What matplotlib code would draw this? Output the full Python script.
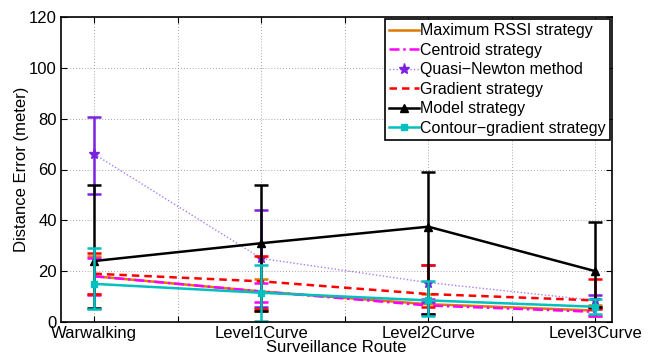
import matplotlib
matplotlib.use("Agg")
import matplotlib.pyplot as plt

plt.rcParams["font.family"] = ["Liberation Sans", "DejaVu Sans"]

routes = ["Warwalking", "Level1Curve", "Level2Curve", "Level3Curve"]
xpos = [1, 2, 3, 4]

# mean, lower bound, upper bound of each strategy's error (meters)
max_rssi = [18, 12, 7, 4.5]
max_rssi_lo = [11, 4.5, 3, 2.5]
max_rssi_hi = [26, 17, 11, 6.5]

centroid = [18, 12, 6.5, 4]
centroid_lo = [10.5, 8, 3, 2.5]
centroid_hi = [25, 15.5, 9, 5.5]

quasi = [66, 25, 15.5, 8.5]
quasi_lo = [50.5, 6, 8, 6]
quasi_hi = [80.5, 44, 22.5, 10.5]

gradient = [19, 16, 11, 8.5]
gradient_lo = [11, 5, 6, 5]
gradient_hi = [27, 26, 22.5, 17]

model = [24, 31, 37.5, 20]
model_lo = [5.5, 4.5, 3, 6]
model_hi = [54, 54, 59, 39.5]

contour = [15, 11.5, 8.5, 6]
contour_lo = [5, 0.5, 2.5, 3]
contour_hi = [29, 22.5, 16, 9]

series = [
    ("Maximum RSSI strategy", max_rssi, max_rssi_lo, max_rssi_hi,
     dict(color="#e07b00", ls="-", marker=None, lw=1.8), "#e07b00"),
    ("Centroid strategy", centroid, centroid_lo, centroid_hi,
     dict(color="#ff00ff", ls=(0, (4, 1.5, 1, 1.5)), marker=None, lw=1.8),
     "#ff00ff"),
    ("Quasi\u2212Newton method", quasi, quasi_lo, quasi_hi,
     dict(color="#a77ff5", ls=(0, (1, 1.5)), marker="*", ms=8, lw=1.0,
          mfc="#7a22e0", mec="#7a22e0"), "#7a22e0"),
    ("Gradient strategy", gradient, gradient_lo, gradient_hi,
     dict(color="#ff0000", ls=(0, (3, 2)), marker=None, lw=1.8), "#ff0000"),
    ("Model strategy", model, model_lo, model_hi,
     dict(color="black", ls="-", marker="^", ms=6, lw=1.8), "black"),
    ("Contour\u2212gradient strategy", contour, contour_lo, contour_hi,
     dict(color="#00c0c0", ls="-", marker="s", ms=4, lw=1.8), "#00c0c0"),
]

fig = plt.figure(figsize=(6.56, 3.54), dpi=100)
ax = fig.add_axes([61 / 656, 1 - 322 / 354, (612 - 61) / 656, (322 - 17) / 354])

for label, mean, lo, hi, style, ecol in series:
    yerr = [[m - l for m, l in zip(mean, lo)], [h - m for m, h in zip(mean, hi)]]
    ax.errorbar(xpos, mean, yerr=yerr, fmt="none", ecolor=ecol,
                elinewidth=1.8, capsize=5, capthick=1.8)
    ax.plot(xpos, mean, label=label, **style)

ax.set_xlim(0.8, 4.1)
ax.set_ylim(0, 120)
ax.set_xticks([1, 1.5, 2, 2.5, 3, 3.5, 4])
ax.set_xticklabels([routes[0], "", routes[1], "", routes[2], "", routes[3]])
ax.set_yticks(range(0, 121, 20))
ax.tick_params(direction="in", top=True, right=True, labelsize=12, length=4,
               pad=3)
ax.grid(True, ls=(0, (1, 2.5)), color="#888888", lw=0.6)
for s in ax.spines.values():
    s.set_linewidth(1.2)

ax.set_ylabel("Distance Error (meter)", fontsize=12, labelpad=0)
ax.set_xlabel("Surveillance Route", fontsize=12, labelpad=-1)

leg = ax.legend(loc="upper right", fontsize=11.5, frameon=True, fancybox=False,
                borderpad=0.25, labelspacing=0.28, handlelength=1.9,
                handletextpad=0.05, borderaxespad=0.15, framealpha=1)
leg.get_frame().set_edgecolor("black")
leg.get_frame().set_linewidth(1.2)

fig.savefig("out.png", dpi=100)
